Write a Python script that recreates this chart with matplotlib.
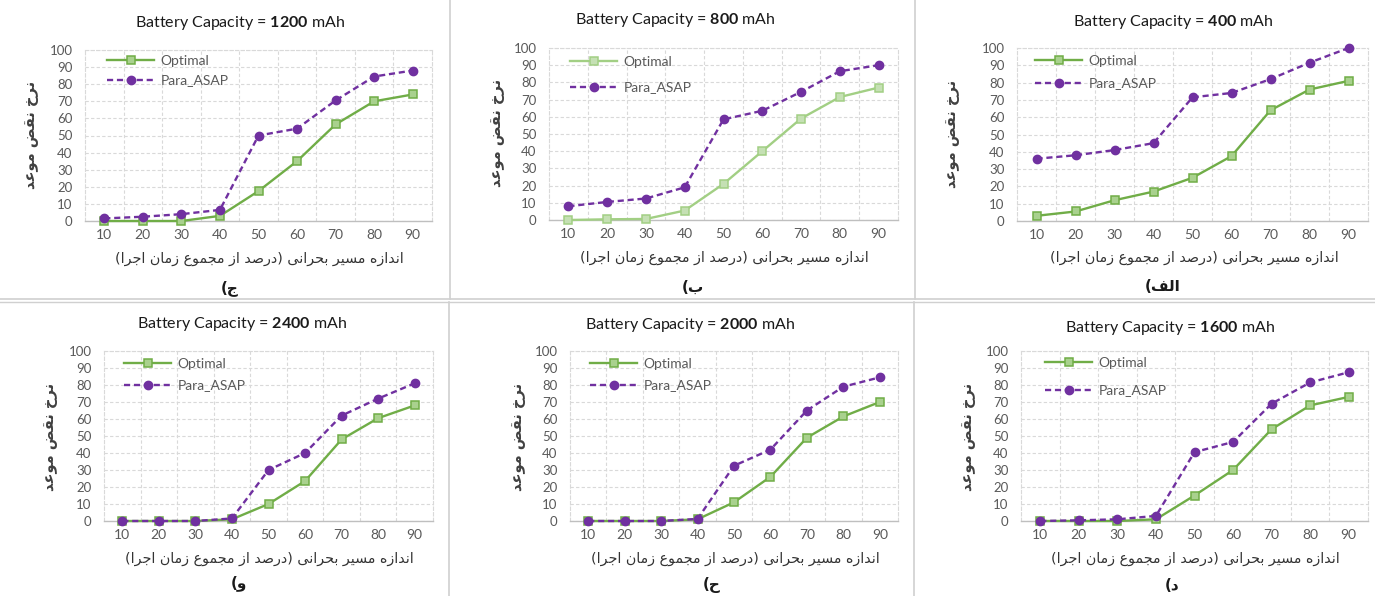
import matplotlib
matplotlib.use('Agg')

import numpy as np
import matplotlib.pyplot as plt
from matplotlib.lines import Line2D
from matplotlib.ticker import FixedLocator

plt.rcParams['font.family'] = ['Lato', 'DejaVu Sans']
plt.rcParams['mathtext.fontset'] = 'custom'
plt.rcParams['mathtext.rm'] = 'Lato'
plt.rcParams['mathtext.bf'] = 'Lato:bold'

# critical path size (% of total execution time)
path_size = [10, 20, 30, 40, 50, 60, 70, 80, 90]

# deadline miss rate
optimal_400 = [3, 5.5, 12, 17, 25, 37.5, 64, 76, 81]
asap_400 = [36, 38, 41, 45, 71.5, 74, 82, 91.5, 100]
optimal_800 = [0, 0.4, 0.6, 5.5, 21, 40, 59, 71.5, 77]
asap_800 = [8, 10.5, 12.5, 19, 58.5, 63.5, 74.5, 86.5, 90]
optimal_1200 = [0, 0, 0, 3, 17.5, 35, 56.5, 70, 74]
asap_1200 = [1.5, 2.5, 4, 6.5, 50, 54, 70.5, 84.5, 88]
optimal_1600 = [0, 0, 0, 1, 15, 30, 54, 68, 73]
asap_1600 = [0, 0.4, 1, 3, 40.5, 46.5, 69, 81.5, 87.5]
optimal_2000 = [0, 0, 0, 1, 11, 26, 49, 61.5, 70]
asap_2000 = [0, 0, 0, 1.2, 32.5, 42, 65, 79, 84.5]
optimal_2400 = [0, 0, 0, 1, 10, 23.5, 48, 60.5, 68]
asap_2400 = [0, 0, 0, 1.5, 30, 40, 62, 72, 81]

ylabel_fa = 'نرخ نقض موعد'
xlabel_fa = 'اندازه مسیر بحرانی (درصد از مجموع زمان اجرا)'

# Arabic presentation forms: isolated, final, initial, medial
FORMS = {
    'ا': ('\uFE8D', '\uFE8E', None, None),
    'ب': ('\uFE8F', '\uFE90', '\uFE91', '\uFE92'),
    'ت': ('\uFE95', '\uFE96', '\uFE97', '\uFE98'),
    'ج': ('\uFE9D', '\uFE9E', '\uFE9F', '\uFEA0'),
    'ح': ('\uFEA1', '\uFEA2', '\uFEA3', '\uFEA4'),
    'خ': ('\uFEA5', '\uFEA6', '\uFEA7', '\uFEA8'),
    'د': ('\uFEA9', '\uFEAA', None, None),
    'ر': ('\uFEAD', '\uFEAE', None, None),
    'ز': ('\uFEAF', '\uFEB0', None, None),
    'س': ('\uFEB1', '\uFEB2', '\uFEB3', '\uFEB4'),
    'ص': ('\uFEB9', '\uFEBA', '\uFEBB', '\uFEBC'),
    'ض': ('\uFEBD', '\uFEBE', '\uFEBF', '\uFEC0'),
    'ع': ('\uFEC9', '\uFECA', '\uFECB', '\uFECC'),
    'ف': ('\uFED1', '\uFED2', '\uFED3', '\uFED4'),
    'ق': ('\uFED5', '\uFED6', '\uFED7', '\uFED8'),
    'ل': ('\uFEDD', '\uFEDE', '\uFEDF', '\uFEE0'),
    'م': ('\uFEE1', '\uFEE2', '\uFEE3', '\uFEE4'),
    'ن': ('\uFEE5', '\uFEE6', '\uFEE7', '\uFEE8'),
    'ه': ('\uFEE9', '\uFEEA', '\uFEEB', '\uFEEC'),
    'و': ('\uFEED', '\uFEEE', None, None),
    'ی': ('\uFEEF', '\uFEF0', '\uFEF3', '\uFEF4'),
}


def fa(text):
    # crude shaping + right-to-left ordering, matplotlib has no bidi
    def dual(c):
        return c in FORMS and FORMS[c][2] is not None
    out = []
    for i, c in enumerate(text):
        if c not in FORMS:
            out.append(c)
            continue
        prev = text[i-1] if i > 0 else ''
        nxt = text[i+1] if i + 1 < len(text) else ''
        jp = dual(prev)
        jn = dual(c) and nxt in FORMS
        iso, fin, ini, med = FORMS[c]
        out.append(med if jp and jn else fin if jp else ini if jn else iso)
    mirror = {'(': ')', ')': '('}
    return ''.join(mirror.get(c, c) for c in reversed(out))


panels = [
    (1200, optimal_1200, asap_1200, 'ج)'),
    (800, optimal_800, asap_800, 'ب)'),
    (400, optimal_400, asap_400, 'الف)'),
    (2400, optimal_2400, asap_2400, 'و)'),
    (2000, optimal_2000, asap_2000, 'ح)'),
    (1600, optimal_1600, asap_1600, 'د)'),
]

# pixel layout per panel: axes box, title, legend, labels
layout = [
    dict(box=(85, 432, 50, 221), title=(240, 23), leg=(107, 61, 19), xl=(259, 259), yl=(32, 135), tag=(230, 288)),
    dict(box=(549, 898, 48, 220), title=(675, 20), leg=(570, 62, 25), xl=(724, 258), yl=(498, 133), tag=(693, 287)),
    dict(box=(1017, 1368, 48, 221), title=(1173, 22), leg=(1035, 61, 22), xl=(1194, 258), yl=(952, 134), tag=(1163, 287)),
    dict(box=(104, 433, 351, 521), title=(242, 324), leg=(124, 364, 21), xl=(269, 559), yl=(51, 437), tag=(239, 583)),
    dict(box=(570, 898, 351, 521), title=(690, 325), leg=(590, 364, 21), xl=(735, 559), yl=(518, 437), tag=(712, 585)),
    dict(box=(1021, 1368, 351, 521), title=(1170, 328), leg=(1045, 363, 27), xl=(1195, 559), yl=(968, 437), tag=(1172, 585)),
]

W, H = 1375, 596
fig = plt.figure(figsize=(W / 100, H / 100), dpi=100)

green = '#70AD47'
green_fill = '#A9D18E'
purple = '#7030A0'
grid_c = '#D9D9D9'
leg_fs = 10
fs_px = leg_fs * 100 / 72

for (cap, opt, asap, tag), lay in zip(panels, layout):
    l, r, t, b = lay['box']
    ax = fig.add_axes([l / W, 1 - b / H, (r - l) / W, (b - t) / H])

    line_c = green
    face_c = green_fill
    if cap == 800:
        line_c = '#A2CF84'
        face_c = '#C5E0B4'
    ax.plot(path_size, opt, color=line_c, lw=1.7, marker='s', ms=6,
            mfc=face_c, mec=line_c, mew=1.1, label='Optimal', clip_on=False, zorder=3)
    ax.plot(path_size, asap, color=purple, lw=1.7, dashes=(2.6, 1.6), marker='o', ms=6,
            mfc=purple, mec=purple, label='Para_ASAP', clip_on=False, zorder=4)

    ax.set_xlim(5, 95)
    ax.set_ylim(0, 100)
    ax.set_xticks(path_size)
    ax.set_yticks(range(0, 101, 10))
    ax.xaxis.set_minor_locator(FixedLocator(np.arange(15, 90, 10)))
    ax.grid(which='minor', axis='x', color=grid_c, ls=(0, (3, 2)), lw=0.8)
    ax.grid(which='major', axis='y', color=grid_c, ls=(0, (3, 2)), lw=0.8)
    ax.grid(which='major', axis='x', visible=False)
    ax.tick_params(which='both', length=0)
    ax.tick_params(axis='y', pad=9, labelsize=9.5, labelcolor='#595959')
    ax.tick_params(axis='x', pad=6, labelsize=10, labelcolor='#595959')
    for s in ['left', 'right', 'top']:
        ax.spines[s].set_color(grid_c)
        ax.spines[s].set_linestyle((0, (3, 2)))
        ax.spines[s].set_linewidth(0.8)
    ax.spines['bottom'].set_color('#BFBFBF')
    ax.spines['bottom'].set_linewidth(1)
    ax.set_axisbelow(True)

    lx, ly, gap = lay['leg']
    row_h = 0.84 * fs_px
    ax.legend(loc='upper left', bbox_to_anchor=(lx / W, 1 - (ly - row_h / 2) / H),
              bbox_transform=fig.transFigure, frameon=False, borderpad=0, borderaxespad=0,
              handlelength=3.4, handletextpad=0.45, labelspacing=(gap - row_h) / fs_px,
              fontsize=leg_fs, labelcolor='#595959')

    tx, ty = lay['title']
    fig.text(tx / W, 1 - ty / H, r'Battery Capacity = $\mathbf{%d}$ mAh' % cap,
             ha='center', va='center', fontsize=11.5, color='#1A1A1A')
    xx, xy = lay['xl']
    fig.text(xx / W, 1 - xy / H, fa(xlabel_fa), ha='center', va='center',
             fontsize=10.3, color='#333333', family='DejaVu Sans')
    yx, yy = lay['yl']
    fig.text(yx / W, 1 - yy / H, fa(ylabel_fa), ha='center', va='center', rotation=90,
             fontsize=10.5, fontweight='bold', color='#404040', family='DejaVu Sans')
    gx, gy = lay['tag']
    fig.text(gx / W, 1 - gy / H, fa(tag), ha='center', va='center',
             fontsize=11, fontweight='bold', color='#1A1A1A', family='DejaVu Sans')

# frame lines between the pasted panels
sep = '#D0D0D0'
fig.add_artist(Line2D([0, 1], [1 - 299 / H] * 2, color=sep, lw=1.2))
fig.add_artist(Line2D([0, 1], [1 - 302 / H] * 2, color=sep, lw=1.0))
for x in (450, 915):
    fig.add_artist(Line2D([x / W] * 2, [1 - 299 / H, 1], color=sep, lw=1.2))
    fig.add_artist(Line2D([(x - 1) / W] * 2, [0, 1 - 302 / H], color=sep, lw=1.2))

fig.savefig('out.png', dpi=100, facecolor='white')
